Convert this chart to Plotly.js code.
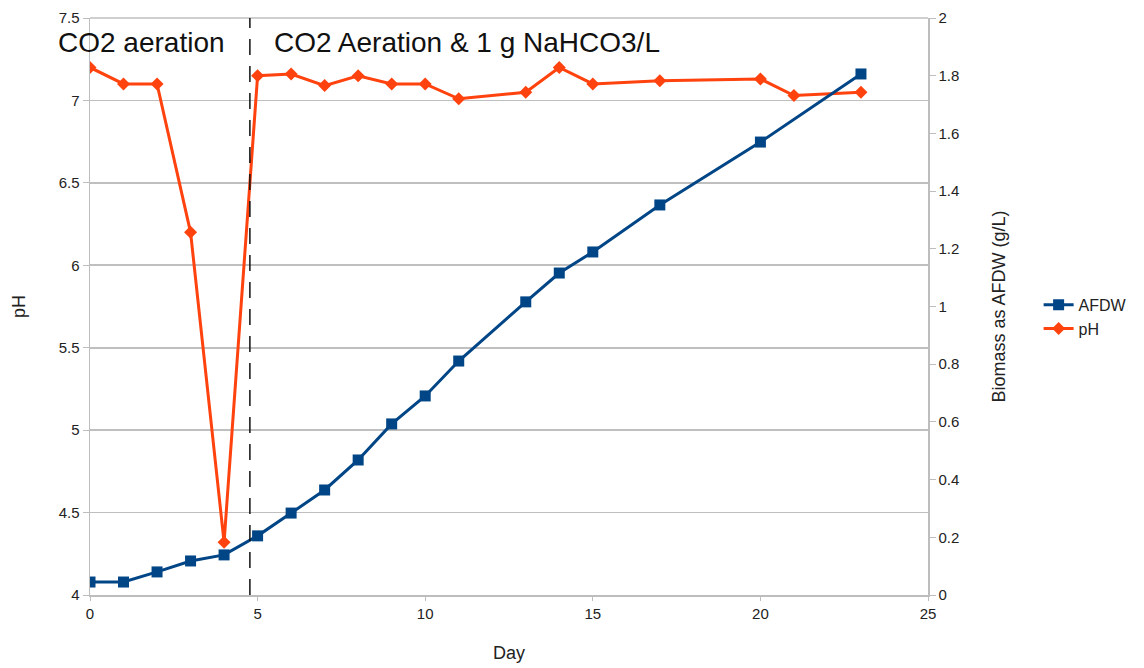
<!DOCTYPE html>
<html>
<head>
<meta charset="utf-8">
<script src="https://cdn.plot.ly/plotly-3.0.1.min.js"></script>
<style>html,body{margin:0;padding:0;background:#fff;}#chart{width:1144px;height:668px;}</style>
</head>
<body>
<div id="chart"></div>
<script>
// Data
const afdwDays = [0, 1, 2, 3, 4, 5, 6, 7, 8, 9, 10, 11, 13, 14, 15, 17, 20, 23];
const afdwValues = [0.045, 0.045, 0.08, 0.118, 0.139, 0.205, 0.284, 0.364, 0.468, 0.593, 0.69, 0.811, 1.016, 1.116, 1.189, 1.352, 1.57, 1.806];
const phDays = [0, 1, 2, 3, 4, 5, 6, 7, 8, 9, 10, 11, 13, 14, 15, 17, 20, 21, 23];
const phValues = [7.2, 7.1, 7.1, 6.2, 4.32, 7.15, 7.16, 7.09, 7.15, 7.1, 7.1, 7.01, 7.05, 7.2, 7.1, 7.12, 7.13, 7.03, 7.05];
const seriesNames = ['AFDW', 'pH'];
const phaseChangeDay = 4.77;
const phaseLabels = ['CO2 aeration', 'CO2 Aeration &amp; 1 g NaHCO3/L'];
const axisTitles = {x: 'Day', y: 'pH', y2: 'Biomass as AFDW (g/L)'};

const BLUE = '#004586', ORANGE = '#ff420e';
const FONT = 'Liberation Sans, Arial, sans-serif';

const traces = [
  {
    x: afdwDays, y: afdwValues, name: seriesNames[0], yaxis: 'y2',
    type: 'scatter', mode: 'lines+markers',
    line: {color: BLUE, width: 3},
    marker: {symbol: 'square', size: 11, color: BLUE}
  },
  {
    x: phDays, y: phValues, name: seriesNames[1], yaxis: 'y',
    type: 'scatter', mode: 'lines+markers',
    line: {color: ORANGE, width: 3},
    marker: {symbol: 'diamond', size: 10, color: ORANGE}
  }
];

const layout = {
  width: 1144, height: 668,
  margin: {l: 90, r: 216, t: 18, b: 73, autoexpand: false},
  paper_bgcolor: '#ffffff', plot_bgcolor: '#ffffff',
  font: {family: FONT, size: 15, color: '#222'},
  showlegend: true,
  legend: {
    x: 1.132, xanchor: 'left', y: 0.482, yanchor: 'middle',
    font: {family: FONT, size: 16, color: '#222'},
    traceorder: 'normal', itemwidth: 30, tracegroupgap: 0,
    bgcolor: 'rgba(0,0,0,0)'
  },
  xaxis: {
    range: [0, 25], dtick: 5, tick0: 0,
    showgrid: false, zeroline: false,
    showline: true, linecolor: '#bdbdbd', linewidth: 1.5,
    ticks: 'outside', ticklen: 4, tickcolor: '#bdbdbd',
    tickfont: {size: 15, color: '#222'},
    title: {text: axisTitles.x, font: {size: 18, color: '#222'}, standoff: 26}
  },
  yaxis: {
    range: [4, 7.5], dtick: 0.5, tick0: 4,
    showgrid: true, gridcolor: '#bfbfbf', gridwidth: 1.6,
    zeroline: false,
    showline: true, linecolor: '#bdbdbd', linewidth: 1.5,
    ticks: 'outside', ticklen: 6, tickcolor: '#bdbdbd',
    tickfont: {size: 15, color: '#222'},
    title: {text: axisTitles.y, font: {size: 18, color: '#222'}, standoff: 28}
  },
  yaxis2: {
    range: [0, 2], dtick: 0.2, tick0: 0,
    overlaying: 'y', side: 'right',
    showgrid: false, zeroline: false,
    showline: true, linecolor: '#bdbdbd', linewidth: 1.5,
    ticks: 'outside', ticklen: 6, tickcolor: '#bdbdbd',
    tickfont: {size: 15, color: '#222'},
    title: {text: axisTitles.y2, font: {size: 18, color: '#222'}, standoff: 34}
  },
  shapes: [
    {type: 'line', xref: 'x', yref: 'paper', x0: phaseChangeDay, x1: phaseChangeDay, y0: 0, y1: 1,
     line: {color: '#111', width: 1.5, dash: '16px,11px'}, layer: 'above'},
    {type: 'line', xref: 'paper', yref: 'paper', x0: 0, x1: 1, y0: 1, y1: 1,
     line: {color: '#bfbfbf', width: 1.6}, layer: 'below'}
  ],
  annotations: [
    {text: phaseLabels[0], xref: 'paper', yref: 'paper', x: -0.041, y: 0.957,
     xanchor: 'left', yanchor: 'middle', showarrow: false,
     font: {family: FONT, size: 28, color: '#111'}},
    {text: phaseLabels[1], xref: 'paper', yref: 'paper', x: 0.217, y: 0.957,
     xanchor: 'left', yanchor: 'middle', showarrow: false,
     font: {family: FONT, size: 28, color: '#111'}}
  ]
};

Plotly.newPlot('chart', traces, layout, {displayModeBar: false, staticPlot: true});
</script>
</body>
</html>
